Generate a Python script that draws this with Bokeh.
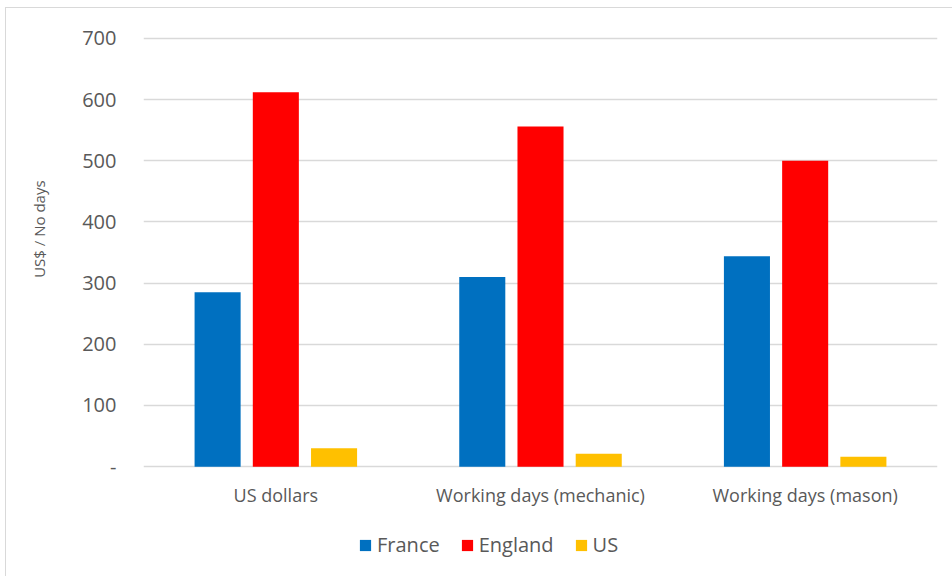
from bokeh.embed import file_html
from bokeh.layouts import column
from bokeh.models import FactorRange, FixedTicker, Legend, LegendItem, Range1d
from bokeh.plotting import figure
from bokeh.resources import INLINE
from bokeh.transform import dodge

# Cost of a patent, by country
measures = ["US dollars", "Working days (mechanic)", "Working days (mason)"]
countries = ["France", "England", "US"]
france = [285, 310, 344]
england = [612, 556, 500]
us = [30, 21, 16]
y_ticks = [0, 100, 200, 300, 400, 500, 600, 700]

colors = ["#0070C0", "#FF0000", "#FFC000"]
series = [france, england, us]
offsets = [-0.22, 0.0, 0.22]

FONT = "Open Sans"
TEXT = "#595959"
GRID = "#d9d9d9"

p = figure(
    width=946, height=512,
    x_range=FactorRange(*measures, range_padding=0.0),
    y_range=Range1d(-3, 703),
    output_backend="svg", toolbar_location=None,
    min_border_left=137, min_border_right=15,
    min_border_top=28, min_border_bottom=52,
)
p.outline_line_color = None
p.background_fill_color = "white"
p.border_fill_color = "white"

data = {"measure": measures}
for name, vals in zip(countries, series):
    data[name] = vals

for name, col, off in zip(countries, colors, offsets):
    p.vbar(x=dodge("measure", off, range=p.x_range), top=name, width=0.174,
           source=data, fill_color=col, line_color=None)

# axes
p.xgrid.grid_line_color = None
p.ygrid.grid_line_color = GRID
p.ygrid.grid_line_width = 1.3
p.yaxis.ticker = FixedTicker(ticks=y_ticks)
p.yaxis.major_label_overrides = {0: "-"}
for ax in (p.xaxis[0], p.yaxis[0]):
    ax.axis_line_color = None
    ax.major_tick_line_color = None
    ax.minor_tick_line_color = None
    ax.major_tick_out = 0
    ax.major_tick_in = 0
    ax.major_label_text_font = FONT
    ax.major_label_text_color = TEXT
p.yaxis.major_label_text_font_size = "20px"
p.yaxis.major_label_standoff = 27
p.xaxis.major_label_text_font_size = "18px"
p.xaxis.major_label_standoff = 14

# vertical axis title, sitting a little above the middle of the plot
p.yaxis.axis_label = "\u00a0" * 12 + "US$ / No days"
p.yaxis.axis_label_text_font = FONT
p.yaxis.axis_label_text_font_size = "15px"
p.yaxis.axis_label_text_font_style = "normal"
p.yaxis.axis_label_text_color = TEXT
p.yaxis.axis_label_standoff = 30

# legend strip underneath the plot (its frame lines up with the plot's frame)
key = figure(
    width=946, height=56, x_range=Range1d(0, 1), y_range=Range1d(0, 1),
    output_backend="svg", toolbar_location=None,
    min_border_left=0, min_border_right=0, min_border_top=0, min_border_bottom=0,
)
key.axis.visible = False
key.grid.visible = False
key.outline_line_color = None
key.border_fill_color = "white"
# zero-height bars: they only lend their colours to the legend keys
swatches = [key.vbar(x=[0], top=[0], width=0.01, fill_color=col, line_color=None)
            for col in colors]
legend = Legend(
    items=[LegendItem(label=n, renderers=[r]) for n, r in zip(countries, swatches)],
    orientation="horizontal", location=(215, 18),
    glyph_width=14, glyph_height=14, label_standoff=5, spacing=20,
    label_text_font=FONT, label_text_font_size="20px", label_text_color=TEXT,
    label_height=24, padding=0, margin=0, border_line_color=None,
    background_fill_alpha=0,
)
key.add_layout(legend, "center")

page = column(p, key, spacing=0)
page.margin = (7, 0, 0, 5)
page.styles = {"border-left": "1px solid #d9d9d9", "border-top": "1px solid #d9d9d9"}

open("out.html", "w").write(file_html(page, INLINE))
